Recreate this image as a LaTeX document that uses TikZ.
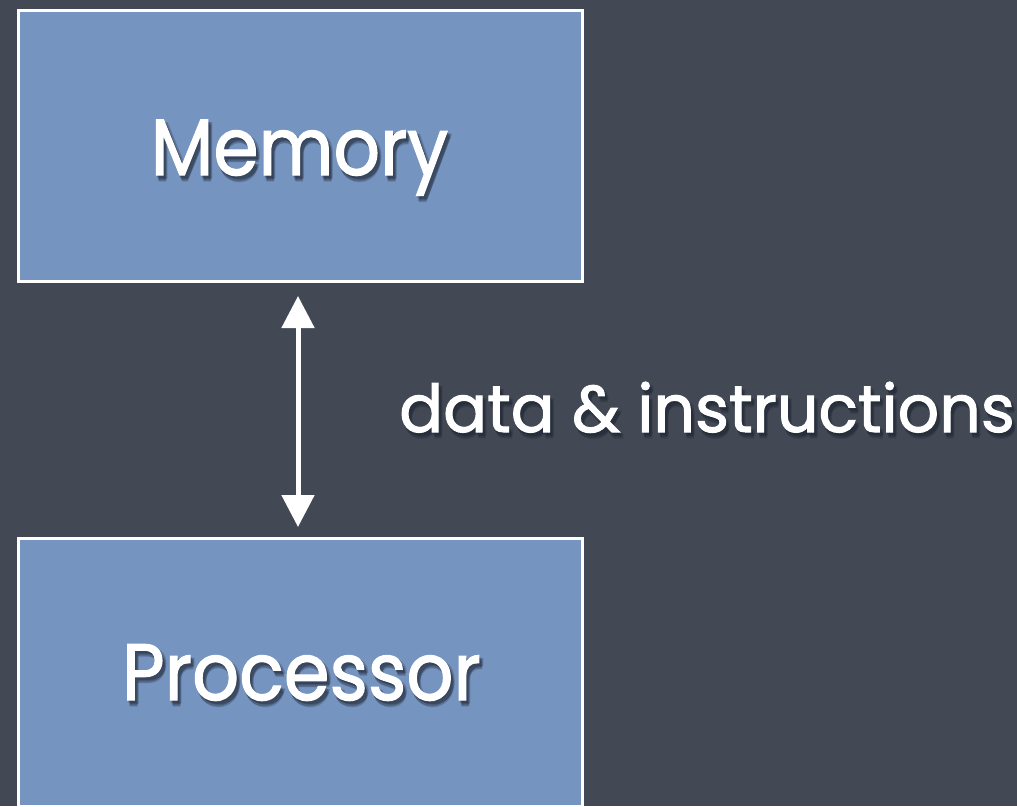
\documentclass[tikz,border=0pt]{standalone}
\usepackage{fontspec}
\newfontfamily\chalk[FakeBold=1.5]{Poppins}
\usetikzlibrary{arrows.meta,calc}
\definecolor{slate}{HTML}{424955}
\definecolor{boxblue}{HTML}{7694C0}
\definecolor{dropshade}{HTML}{1E2633}
\tikzset{
  unitbox/.style={draw=white, line width=3pt, fill=boxblue, inner sep=0pt,
    minimum width=564pt, anchor=north west},
  boxtext/.style={text=white, inner sep=0pt, anchor=base,
    font=\chalk\fontsize{80}{80}\selectfont},
  sidetext/.style={text=white, inner sep=0pt, anchor=base west,
    font=\chalk\fontsize{66}{66}\selectfont},
  shade/.style={text=dropshade, opacity=0.16},
  bus/.style={draw=white, line width=5pt,
    {Triangle[width=32pt,length=32pt]}-{Triangle[width=32pt,length=32pt]}},
}
% a label with a soft shadow built from a few faint offset copies
\newcommand\softlabel[4]{%
  \foreach \dx/\dy in {1/2,2/3,3/4,2/5,4/3,3/6}
    \node[#1, shade] at ($(#2)+(\dx,\dy)$) {#4};
  \node[#1] (#3) at (#2) {#4};
}
\begin{document}
\begin{tikzpicture}[x=1pt,y=-1pt]
  % slate backdrop
  \fill[slate] (0,0) rectangle (1017,806);
  \useasboundingbox (0,0) rectangle (1017,806);

  % the two units
  \node[unitbox, minimum height=271pt] (mem) at (16.5,8.5) {};
  \node[unitbox, minimum height=268pt] (cpu) at (16.5,536.5) {};

  % labels
  \softlabel{boxtext}{299.5,175}{memlabel}{\scalebox{0.91}[1]{Memory}}
  \softlabel{boxtext}{301.5,700}{cpulabel}{\scalebox{0.92}[1]{Processor}}

  % connection between the units
  \coordinate (top) at (298,296);
  \coordinate (bot) at (298,527);
  \draw[bus] (top) -- (bot);

  \softlabel{sidetext}{399,432}{busl}{\scalebox{0.985}[1]{data \& instructions}}
\end{tikzpicture}
\end{document}
